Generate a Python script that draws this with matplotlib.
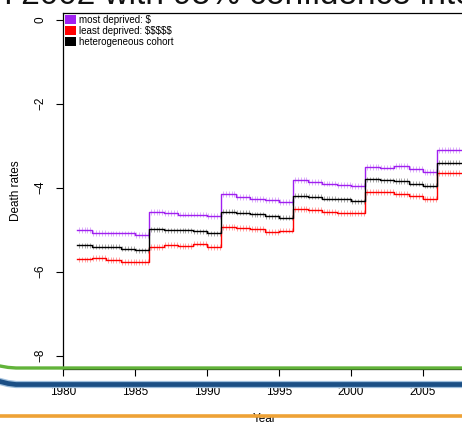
import matplotlib
matplotlib.use("Agg")
import matplotlib.pyplot as plt
from matplotlib.patches import Patch
from matplotlib.lines import Line2D
import numpy as np

plt.rcParams['font.family'] = ['Liberation Sans', 'DejaVu Sans']

years = np.arange(1981, 2008)

most_deprived = [-5.01, -5.07, -5.09, -5.09, -5.13,
                 -4.57, -4.61, -4.64, -4.64, -4.67,
                 -4.15, -4.22, -4.26, -4.30, -4.34,
                 -3.82, -3.86, -3.90, -3.94, -3.96,
                 -3.50, -3.52, -3.48, -3.56, -3.62,
                 -3.10, -3.11]
least_deprived = [-5.71, -5.67, -5.73, -5.77, -5.77,
                  -5.41, -5.37, -5.39, -5.33, -5.41,
                  -4.93, -4.97, -4.99, -5.05, -5.02,
                  -4.50, -4.53, -4.57, -4.61, -4.61,
                  -4.10, -4.10, -4.14, -4.20, -4.26,
                  -3.64, -3.65]
hetero = [-5.37, -5.41, -5.41, -5.45, -5.49,
          -4.99, -5.01, -5.01, -5.04, -5.08,
          -4.57, -4.60, -4.63, -4.68, -4.72,
          -4.19, -4.22, -4.26, -4.28, -4.32,
          -3.80, -3.82, -3.84, -3.90, -3.95,
          -3.40, -3.40]
ci_half = [0.07, 0.07, 0.06]

labels = ["most deprived: $", "least deprived: $$$$$", "heterogeneous cohort"]
colors = ["#A020F0", "#FF0000", "#000000"]
series = [most_deprived, least_deprived, hetero]

W, H = 462, 423
fig = plt.figure(figsize=(W / 100, H / 100), dpi=100)
ax = fig.add_axes([63 / W, 1 - 369 / H, (467 - 63) / W, (369 - 12.7) / H])

edges = np.append(years, years[-1] + 1)
tt = np.arange(years[0], years[-1] + 1, 0.2) + 0.1
for vals, col, ci in zip(series, colors, ci_half):
    vals = np.array(vals)
    ax.step(edges, np.append(vals, vals[-1]), where='post', color=col, lw=1.0, zorder=3)
    v = vals[(tt - years[0]).astype(int)]
    ax.vlines(tt, v - ci, v + ci, color=col, alpha=0.35, lw=0.7, zorder=2)

ax.set_xlim(1980, 2008.05)
ax.set_ylim(-8.32, 0.17)
ax.set_xticks([1980, 1985, 1990, 1995, 2000, 2005])
ax.set_yticks([0, -2, -4, -6, -8])
ax.set_yticklabels(['0', '\u22122', '\u22124', '\u22126', '\u22128'], rotation=90, va='center')
ax.tick_params(axis='both', labelsize=8.5, length=5, width=0.8)
ax.tick_params(axis='x', pad=7)
ax.tick_params(axis='y', pad=7)
for s in ax.spines.values():
    s.set_linewidth(0.9)
ax.set_ylabel("Death rates", fontsize=8.5, labelpad=9)

handles = [Patch(facecolor=c, edgecolor='none') for c in colors]
ax.legend(handles, labels, loc='upper left', bbox_to_anchor=(0.0, 1.0), frameon=False,
          fontsize=7, handlelength=1.1, handleheight=1.1, handletextpad=0.3,
          labelspacing=0.1, borderaxespad=0.0, borderpad=0.2)

# slide title, cut off at the top
fig.text(-14 / W, 1 - 4 / H, "in 2002 with 95% confidence intervals", fontsize=24,
         color='#111111', ha='left', va='baseline')

fig.text(265 / W, 1 - 419 / H, "Year", fontsize=8.5, ha='center', va='center')

# slide decoration lines
pix = lambda x, y: (x / W, 1 - y / H)
gx = [0, 8, 16, W]
fig.add_artist(Line2D([pix(x, 0)[0] for x in gx], [pix(0, y)[1] for y in [366, 367.4, 368, 368]],
                      color='#62b33a', lw=2.4, zorder=10))
fig.add_artist(Line2D([pix(x, 0)[0] for x in gx], [pix(0, y)[1] for y in [381.5, 383.5, 384.5, 384.5]],
                      color='#9fbfdc', lw=5.2, zorder=10))
fig.add_artist(Line2D([pix(x, 0)[0] for x in gx], [pix(0, y)[1] for y in [381.5, 383.5, 384.5, 384.5]],
                      color='#1b4f85', lw=3.4, zorder=10))
fig.add_artist(Line2D([0, 1], [pix(0, 415.5)[1]] * 2, color='#eea236', lw=2.6, zorder=10))

fig.savefig("out.png", dpi=100)
